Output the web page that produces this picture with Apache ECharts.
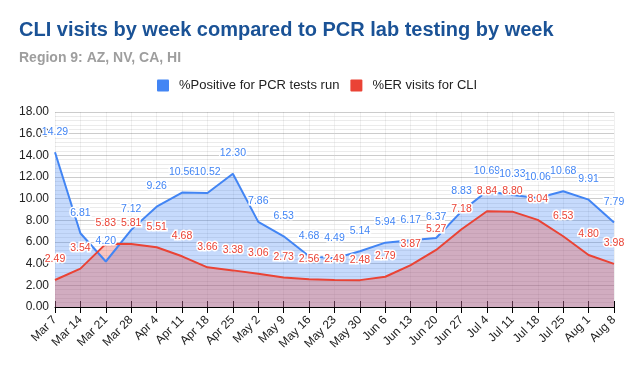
<!DOCTYPE html>
<html>
<head>
<meta charset="utf-8">
<script src="https://cdn.jsdelivr.net/npm/echarts@6/dist/echarts.min.js"></script>
<style>
html,body{margin:0;padding:0;background:#fff;}
#chart{width:633px;height:371px;}
</style>
</head>
<body>
<div id="chart"></div>
<script>
const categories = ['Mar 7','Mar 14','Mar 21','Mar 28','Apr 4','Apr 11','Apr 18','Apr 25','May 2','May 9','May 16','May 23','May 30','Jun 6','Jun 13','Jun 20','Jun 27','Jul 4','Jul 11','Jul 18','Jul 25','Aug 1','Aug 8'];
const pcrPositive = [14.29,6.81,4.20,7.12,9.26,10.56,10.52,12.30,7.86,6.53,4.68,4.49,5.14,5.94,6.17,6.37,8.83,10.69,10.33,10.06,10.68,9.91,7.79];
const erVisits = [2.49,3.54,5.83,5.81,5.51,4.68,3.66,3.38,3.06,2.73,2.56,2.49,2.48,2.79,3.87,5.27,7.18,8.84,8.80,8.04,6.53,4.80,3.98];
const seriesNames = ['%Positive for PCR tests run','%ER visits for CLI'];
const titleText = 'CLI visits by week compared to PCR lab testing by week';
const subtitleText = 'Region 9: AZ, NV, CA, HI';

const BLUE = '#4285f4', RED = '#ea4335';
const FONT = 'Arial, "Liberation Sans", sans-serif';

const chart = echarts.init(document.getElementById('chart'), null, {renderer:'canvas'});

function mkSeries(name, data, color) {
  return {
    name: name, type: 'line', data: data,
    symbol: 'circle', symbolSize: 0, showSymbol: true,
    lineStyle: {color: color, width: 2},
    itemStyle: {color: color},
    areaStyle: {color: color, opacity: 0.3},
    label: {
      show: true, position: 'top', distance: 15,
      formatter: p => p.value.toFixed(2),
      color: color, fontFamily: FONT, fontSize: 10.5,
      textBorderColor: '#fff', textBorderWidth: 3
    },
    labelLayout: {hideOverlap: false},
    emphasis: {disabled: true},
    animation: false
  };
}

chart.setOption({
  animation: false,
  title: [
    {text: titleText, left: 19, top: 20, padding: 0,
     textStyle: {fontFamily: FONT, fontSize: 20, fontWeight: 'bold', color: '#1a5296'}},
    {text: subtitleText, left: 19, top: 51, padding: 0,
     textStyle: {fontFamily: FONT, fontSize: 14, fontWeight: 'bold', color: '#9e9e9e'}}
  ],
  legend: {
    left: 157, top: 79, padding: 0,
    itemWidth: 12, itemHeight: 12, itemGap: 11,
    icon: 'path://M1,0 H11 Q12,0 12,1 V11 Q12,12 11,12 H1 Q0,12 0,11 V1 Q0,0 1,0 Z',
    data: seriesNames,
    textStyle: {fontFamily: FONT, fontSize: 13, color: '#222', padding: [0,0,0,5]}
  },
  grid: {left: 55, right: 19, top: 112, bottom: 64, containLabel: false},
  xAxis: [
    {
      type: 'category', data: categories, boundaryGap: false,
      axisLine: {show: true, lineStyle: {color: '#000', width: 1}},
      axisTick: {show: true, inside: false, length: 6, interval: 0, lineStyle: {color: '#000'}},
      axisLabel: {rotate: 45, fontFamily: FONT, fontSize: 12, color: '#222', margin: 11, interval: 0},
      splitLine: {show: true, interval: 0, lineStyle: {color: 'rgba(0,0,0,0.06)'}}
    },
    {
      type: 'category', data: categories, boundaryGap: false, position: 'bottom',
      axisLine: {show: false},
      axisTick: {show: true, inside: true, length: 6, interval: 0, lineStyle: {color: '#000'}},
      axisLabel: {show: false},
      splitLine: {show: false}
    }
  ],
  yAxis: {
    type: 'value', min: 0, max: 18, interval: 2,
    axisLine: {show: false}, axisTick: {show: false},
    axisLabel: {formatter: v => v.toFixed(2), fontFamily: FONT, fontSize: 12, color: '#222', margin: 6},
    splitLine: {lineStyle: {color: '#cccccc'}},
    minorTick: {show: false, splitNumber: 5},
    minorSplitLine: {show: true, lineStyle: {color: '#ebebeb'}}
  },
  series: [
    mkSeries(seriesNames[0], pcrPositive, BLUE),
    mkSeries(seriesNames[1], erVisits, RED)
  ]
});
</script>
</body>
</html>
